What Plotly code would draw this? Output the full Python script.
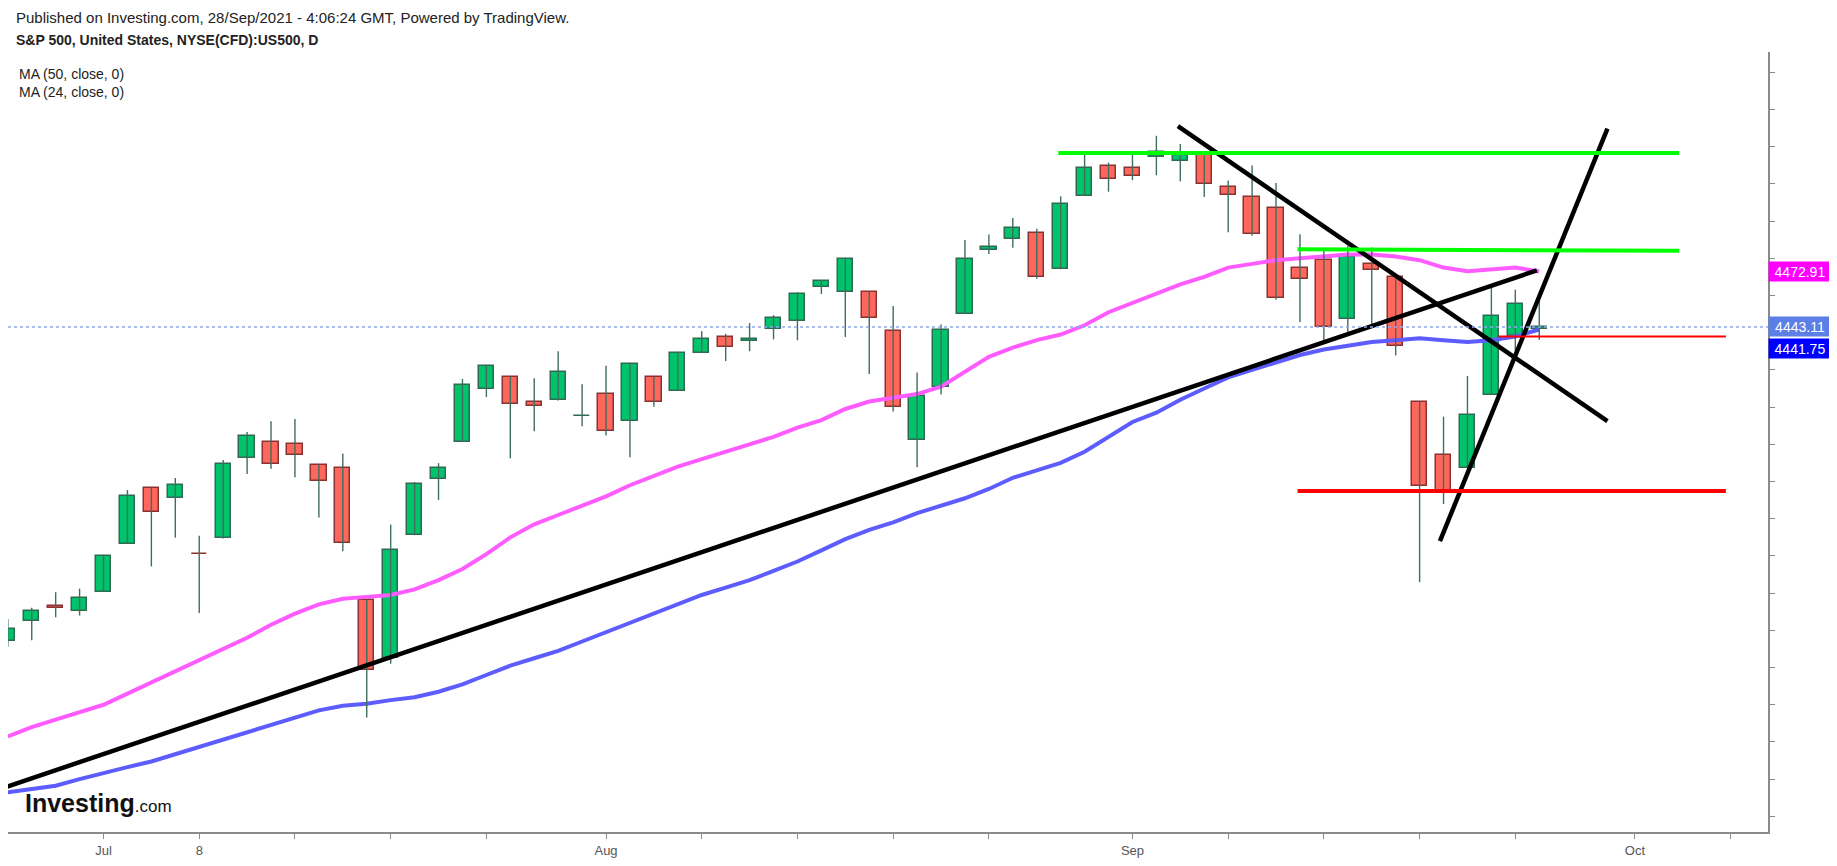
import plotly.graph_objects as go

# trading days 25 Jun .. 27 Sep 2021, index 1..65
days = list(range(1, 66))

opens = [4274.45, 4284.90, 4293.21, 4290.65, 4300.73, 4326.60, 4356.46, 4351.01, 4321.07, 4329.38,
         4372.41, 4381.07, 4380.11, 4369.02, 4367.43, 4296.40, 4265.11, 4331.13, 4361.27, 4381.20,
         4409.58, 4416.38, 4402.95, 4403.59, 4395.12, 4406.86, 4392.74, 4415.95, 4408.86, 4429.07,
         4437.77, 4435.79, 4442.18, 4446.08, 4464.84, 4461.65, 4462.12, 4440.94, 4382.44, 4410.56,
         4450.29, 4484.40, 4490.45, 4493.75, 4474.10, 4513.76, 4529.75, 4528.80, 4534.48, 4532.42,
         4535.38, 4518.09, 4513.02, 4506.92, 4474.81, 4479.33, 4447.49, 4477.09, 4469.74, 4402.95,
         4374.45, 4367.43, 4406.75, 4438.04, 4442.12]
highs = [4286.12, 4292.14, 4300.52, 4302.43, 4320.66, 4355.43, 4356.46, 4361.88, 4330.88, 4371.60,
         4386.68, 4392.37, 4393.68, 4369.02, 4375.09, 4296.40, 4336.84, 4359.70, 4369.87, 4415.18,
         4422.73, 4416.38, 4415.47, 4429.97, 4412.25, 4422.18, 4423.79, 4416.17, 4429.76, 4440.82,
         4439.39, 4445.21, 4449.44, 4461.77, 4468.37, 4480.26, 4462.12, 4454.32, 4418.61, 4444.35,
         4489.88, 4492.81, 4501.71, 4495.90, 4513.33, 4537.36, 4531.39, 4537.11, 4545.85, 4541.45,
         4535.38, 4521.79, 4529.90, 4520.47, 4492.99, 4485.68, 4486.87, 4485.87, 4471.52, 4402.95,
         4394.87, 4416.75, 4465.40, 4463.12, 4457.30]
lows = [4271.16, 4274.67, 4287.04, 4287.96, 4300.73, 4326.60, 4314.37, 4329.79, 4289.37, 4329.38,
        4364.03, 4366.92, 4362.36, 4340.70, 4322.53, 4233.13, 4262.05, 4331.13, 4350.06, 4381.20,
        4405.45, 4372.51, 4387.01, 4403.59, 4389.65, 4384.81, 4373.00, 4400.23, 4408.86, 4429.07,
        4424.74, 4430.03, 4436.42, 4435.96, 4460.82, 4437.66, 4417.83, 4397.59, 4367.73, 4406.80,
        4450.29, 4482.28, 4485.66, 4468.99, 4474.10, 4513.76, 4515.80, 4522.02, 4524.66, 4521.37,
        4513.00, 4493.95, 4492.07, 4457.66, 4445.70, 4435.46, 4438.37, 4443.80, 4427.76, 4305.91,
        4347.96, 4367.43, 4406.75, 4430.27, 4436.19]
closes = [4280.70, 4290.61, 4291.80, 4297.50, 4319.94, 4352.34, 4343.54, 4358.13, 4320.82, 4369.55,
          4384.63, 4369.21, 4374.30, 4360.03, 4327.16, 4258.49, 4323.06, 4358.69, 4367.48, 4411.79,
          4422.30, 4401.46, 4400.64, 4419.15, 4395.26, 4387.16, 4423.15, 4402.66, 4429.10, 4436.52,
          4432.35, 4436.75, 4447.70, 4460.83, 4468.00, 4479.71, 4448.08, 4400.27, 4405.80, 4441.67,
          4479.53, 4486.23, 4496.19, 4470.00, 4509.37, 4528.79, 4522.68, 4524.09, 4536.95, 4535.43,
          4520.03, 4514.07, 4493.28, 4458.58, 4468.73, 4443.05, 4480.70, 4473.75, 4432.99, 4357.73,
          4354.19, 4395.64, 4448.98, 4455.48, 4443.11]

ma24 = [4223, 4228, 4232, 4236, 4240, 4246, 4252, 4258, 4264, 4270,
        4276, 4283, 4289, 4294, 4297, 4298, 4299, 4302, 4307, 4313,
        4321, 4330, 4337, 4342, 4347, 4352, 4358, 4363, 4368, 4372,
        4376, 4380, 4384, 4389, 4393, 4399, 4403, 4405, 4407, 4411,
        4419, 4427, 4432, 4436, 4439, 4444, 4451, 4456, 4461, 4466,
        4470, 4475, 4477, 4479, 4480, 4481, 4482, 4482, 4481, 4479,
        4475, 4473, 4474, 4475, 4472.91]
ma50 = [4193, 4194.5, 4196.5, 4200, 4203.5, 4206.5, 4209.5, 4213.5, 4217.5, 4221,
        4225, 4229, 4233, 4237, 4239.5, 4240.5, 4242.5, 4244, 4247, 4251,
        4256, 4261, 4265, 4269, 4274, 4279, 4284, 4289, 4294, 4299,
        4303, 4307, 4312, 4317, 4323, 4329, 4334, 4338, 4343, 4347,
        4351, 4356, 4362, 4366, 4370, 4376, 4384, 4392, 4397, 4404,
        4410, 4416, 4420, 4424, 4428, 4431, 4433, 4435, 4436, 4437,
        4436, 4435, 4436, 4438, 4441.75]

# hand-drawn chart lines (day index, price)
up_trend_x, up_trend_y = [0.92, 64.9], [4195.8, 4473.5]
down_trend_x, down_trend_y = [49.9, 67.85], [4551.0, 4392.5]
steep_x, steep_y = [60.85, 67.85], [4328.0, 4549.7]
green_top_x, green_top_y = [44.9, 70.85], [4536.6, 4536.6]
green_mid_x, green_mid_y = [54.9, 70.85], [4484.8, 4484.0]
red_low_x, red_low_y = [54.9, 72.8], [4354.9, 4354.9]
red_thin_x, red_thin_y = [63.3, 72.8], [4438.0, 4438.0]

last_close = 4443.11

tick_days = [5, 9, 13, 17, 21, 26, 30, 34, 38, 42, 48, 52, 56, 60, 64, 69, 73]
tick_text = ["Jul", "8", "", "", "", "Aug", "", "", "", "", "Sep", "", "", "", "", "Oct", ""]

UP, DOWN = "#00c46c", "#ff665c"
up_flags = [c >= o for o, c in zip(opens, closes)]
body_base = [min(o, c) for o, c in zip(opens, closes)]
body_size = [abs(c - o) for o, c in zip(opens, closes)]

wick_x, wick_y = [], []
for d, lo, hi in zip(days, lows, highs):
    wick_x += [d, d, None]
    wick_y += [lo, hi, None]

fig = go.Figure()
fig.add_trace(go.Scatter(x=days, y=ma50, mode="lines", line=dict(color="#5c5cff", width=4)))
fig.add_trace(go.Scatter(x=days, y=ma24, mode="lines", line=dict(color="#ff5cff", width=4)))
fig.add_trace(go.Scatter(x=wick_x, y=wick_y, mode="lines", line=dict(color="#3f6e5c", width=1.4)))
fig.add_trace(go.Bar(
    x=days, y=body_size, base=body_base, width=0.64,
    marker=dict(color=[UP if u else DOWN for u in up_flags],
                line=dict(color=["#2f6a52" if u else "#8a3232" for u in up_flags], width=1.5)),
))

for xs, ys, col, w in [
    (up_trend_x, up_trend_y, "black", 4.5),
    (down_trend_x, down_trend_y, "black", 4.5),
    (steep_x, steep_y, "black", 4.5),
    (green_top_x, green_top_y, "#00ff00", 4),
    (green_mid_x, green_mid_y, "#00ff00", 4),
    (red_low_x, red_low_y, "#ff0000", 4),
    (red_thin_x, red_thin_y, "#ff0000", 2),
]:
    fig.add_trace(go.Scatter(x=xs, y=ys, mode="lines", line=dict(color=col, width=w)))

fig.add_shape(type="line", xref="paper", x0=0, x1=1, yref="y", y0=last_close, y1=last_close,
              line=dict(color="#8ea6ee", width=1.5, dash="dot"))

labels = [(ma24[-1], "#ff00ff", 0), (last_close, "#5b7fe6", 0), (ma50[-1], "#0000ff", -19)]
for val, col, shift in labels:
    fig.add_annotation(x=1, xref="paper", y=val, yref="y", yshift=shift, text=f"{val:.2f}",
                       showarrow=False, xanchor="left", bgcolor=col, width=58, height=15,
                       borderpad=2, font=dict(color="white", size=14, family="Liberation Sans, Arial"))

head = [("Published on Investing.com, 28/Sep/2021 - 4:06:24 GMT, Powered by TradingView.", 1.044, 0.0034, 15),
        ("<b>S&P 500, United States, NYSE(CFD):US500, D</b>", 1.016, 0.0034, 14),
        ("MA (50, close, 0)", 0.972, 0.005, 14),
        ("MA (24, close, 0)", 0.949, 0.005, 14)]
for txt, yy, xx, fs in head:
    fig.add_annotation(x=xx, y=yy, xref="paper", yref="paper", text=txt, showarrow=False,
                       xanchor="left", yanchor="middle",
                       font=dict(size=fs, color="#222", family="Liberation Sans, Arial"))

fig.add_annotation(x=0.0085, y=0.037, xref="paper", yref="paper", showarrow=False,
                   xanchor="left", yanchor="middle",
                   text="<b>Investing</b><span style='font-size:17px'>.com</span>",
                   font=dict(size=25, color="#111", family="Liberation Sans Narrow, Liberation Sans, Arial"))

# page body keeps an 8px margin, so the figure is sized to fit inside it
fig.update_layout(
    width=1821, height=850,
    margin=dict(l=0, r=61, t=44, b=22),
    plot_bgcolor="white", paper_bgcolor="white",
    showlegend=False, bargap=0,
    xaxis=dict(range=[1.008, 74.56], showgrid=False, zeroline=False,
               showline=True, linecolor="#8a8a8a", linewidth=2,
               tickmode="array", tickvals=tick_days, ticktext=tick_text,
               ticks="outside", ticklen=5, tickcolor="#8a8a8a",
               tickfont=dict(size=13, color="#555", family="Liberation Sans, Arial")),
    yaxis=dict(range=[4171.6, 4590.9], side="right", showgrid=False, zeroline=False,
               showline=True, linecolor="#8a8a8a", linewidth=2,
               tickmode="array", tickvals=list(range(4180, 4600, 20)),
               showticklabels=False, ticks="outside", ticklen=5, tickcolor="#8a8a8a"),
)

fig.write_html("out.html")
